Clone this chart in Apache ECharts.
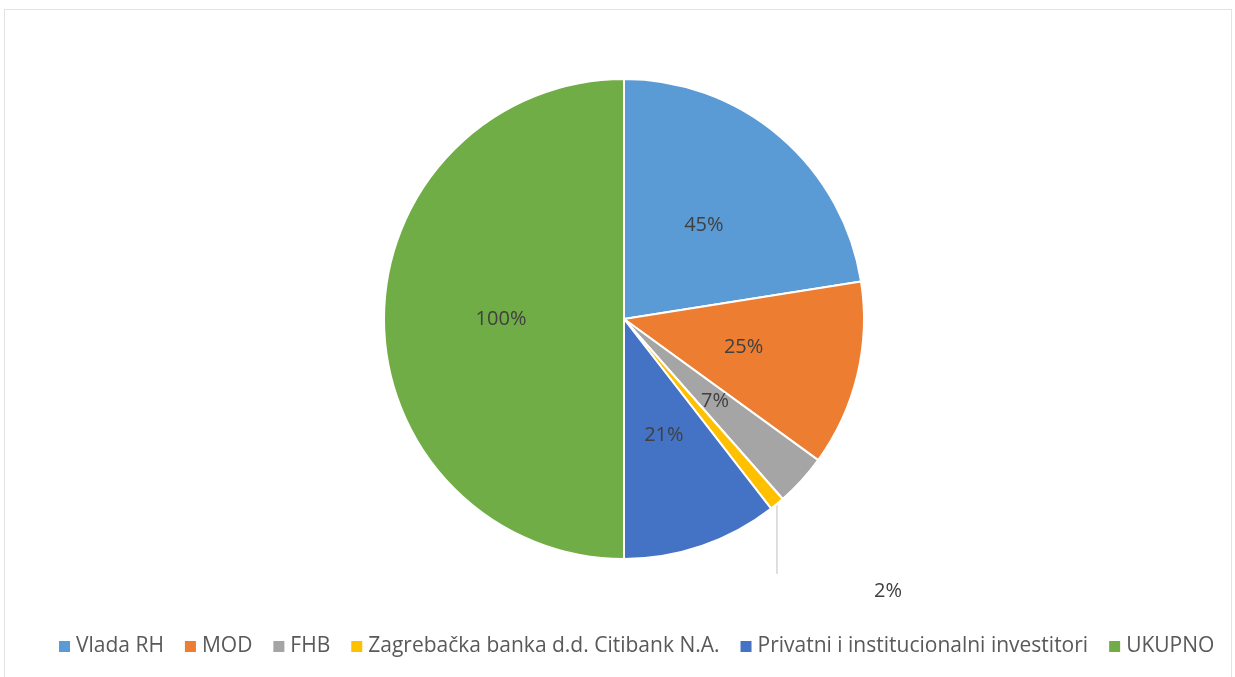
<!DOCTYPE html>
<html>
<head>
<meta charset="utf-8">
<script src="https://cdn.jsdelivr.net/npm/echarts@6/dist/echarts.min.js"></script>
<style>
  html, body { margin: 0; padding: 0; background: #ffffff; }
  #frame { position: absolute; left: 4px; top: 9px; width: 1228px; height: 668px; border: 1px solid #e3e3e3; border-bottom: none; box-sizing: border-box; }
  #chart { position: absolute; left: 0; top: 0; width: 1235px; height: 677px; }
</style>
</head>
<body>
<div id="frame"></div>
<div id="chart"></div>
<script>
"use strict";

// Data
const categories = ["Vlada RH", "MOD", "FHB", "Zagrebačka banka d.d. Citibank N.A.", "Privatni i institucionalni investitori", "UKUPNO"];
const shares = [45, 25, 7, 2, 21, 100];
const sliceColors = ["#5B9BD5", "#ED7D31", "#A5A5A5", "#FFC000", "#4472C4", "#70AD47"];

const chart = echarts.init(document.getElementById("chart"));

chart.setOption({
    animation: false,
    legend: {
        top: 631,
        left: 52,
        itemWidth: 13,
        itemHeight: 13,
        itemGap: 19,
        icon: "rect",
        textStyle: { color: "#595959", fontSize: 21, fontFamily: "Open Sans" },
        data: categories
    },
    series: [{
        type: "pie",
        center: [624, 319],
        radius: 240,
        startAngle: 90,
        clockwise: true,
        avoidLabelOverlap: false,
        itemStyle: { borderColor: "#ffffff", borderWidth: 2 },
        label: {
            show: true,
            position: "inside",
            formatter: p => p.value + "%",
            color: "#404040",
            fontSize: 20,
            fontFamily: "Open Sans"
        },
        labelLayout: function (params) {
            if (params.dataIndex !== 3) return {};
            const p0 = params.labelLinePoints ? params.labelLinePoints[0] : null;
            if (!p0) return {};
            const end = [p0[0], p0[1] + 70];
            return {
                x: p0[0] + 111,
                y: p0[1] + 87,
                align: "center",
                verticalAlign: "middle",
                labelLinePoints: [p0, end, end]
            };
        },
        data: categories.map((name, i) => {
            const item = { name: name, value: shares[i], itemStyle: { color: sliceColors[i] } };
            if (i === 3) {
                item.label = { position: "outside", color: "#404040" };
                item.labelLine = { show: true, length: 10, length2: 10, lineStyle: { color: "#BFBFBF", width: 1 } };
            }
            return item;
        })
    }]
});
</script>
</body>
</html>
